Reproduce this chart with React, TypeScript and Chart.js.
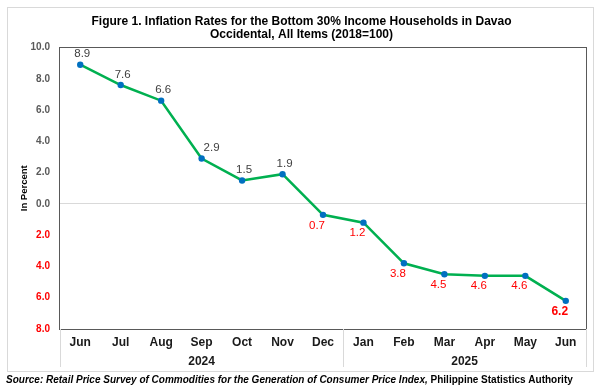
import React, { useEffect, useRef } from 'react';
import { Chart, registerables } from 'chart.js';

Chart.register(...registerables);

const months = ['Jun', 'Jul', 'Aug', 'Sep', 'Oct', 'Nov', 'Dec', 'Jan', 'Feb', 'Mar', 'Apr', 'May', 'Jun'];
const yearLabels = ['2024', '2025'];
const yearSpans = [7, 6];
const inflation = [8.9, 7.6, 6.6, 2.9, 1.5, 1.9, -0.7, -1.2, -3.8, -4.5, -4.6, -4.6, -6.2];
const yMin = -8;
const yMax = 10;
const yStep = 2;
const titleLines = [
  'Figure 1. Inflation Rates for the Bottom 30% Income Households in Davao',
  'Occidental, All Items (2018=100)',
];
const yAxisTitle = 'In Percent';
const sourceItalic = 'Source: Retail Price Survey of Commodities for the Generation of Consumer Price Index,';
const sourceRest = ' Philippine Statistics Authority';

const FONT = '"Liberation Sans", Arial, Helvetica, sans-serif';

const decor = {
  id: 'decor',
  beforeDraw(chart: any) {
    const ctx = chart.ctx;
    ctx.save();
    ctx.fillStyle = '#ffffff';
    ctx.fillRect(0, 0, chart.width, chart.height);
    ctx.restore();
  },
  beforeDatasetsDraw(chart: any) {
    const { ctx, chartArea } = chart;
    ctx.save();
    ctx.strokeStyle = '#595959';
    ctx.lineWidth = 1;
    ctx.strokeRect(
      Math.round(chartArea.left) - 0.5,
      Math.round(chartArea.top) - 0.5,
      Math.round(chartArea.right) - Math.round(chartArea.left) + 1,
      Math.round(chartArea.bottom) - Math.round(chartArea.top) + 1
    );
    ctx.restore();
  },
  afterDatasetsDraw(chart: any) {
    const { ctx } = chart;
    const meta = chart.getDatasetMeta(0);
    ctx.save();
    ctx.textAlign = 'center';
    ctx.textBaseline = 'middle';
    meta.data.forEach((pt: any, i: number) => {
      const v = inflation[i];
      const last = i === inflation.length - 1;
      const txt = Math.abs(v).toFixed(1);
      if (v >= 0) {
        // nudge right when the line drops steeply into the point
        const prev = i > 0 ? inflation[i - 1] : v;
        const dx = prev - v > 3 ? 10 : 2;
        ctx.fillStyle = '#404040';
        ctx.font = `11.5px ${FONT}`;
        ctx.fillText(txt, pt.x + dx, pt.y - 10.5);
      } else {
        ctx.fillStyle = '#FF0000';
        ctx.font = last ? `bold 12px ${FONT}` : `11.5px ${FONT}`;
        ctx.fillText(txt, pt.x - 6, pt.y + 10.5);
      }
    });
    ctx.restore();
  },
  afterDraw(chart: any) {
    const { ctx, chartArea } = chart;
    const xScale = chart.scales.x;
    ctx.save();
    // outer frame
    ctx.strokeStyle = '#D9D9D9';
    ctx.lineWidth = 1;
    ctx.strokeRect(7.5, 7.5, 586, 364);
    // group separators
    const sepTop = Math.round(chartArea.bottom);
    const sepBottom = 367;
    const seps: number[] = [chartArea.left];
    let idx = 0;
    yearSpans.forEach((span) => {
      idx += span;
      if (idx < months.length) {
        seps.push((xScale.getPixelForValue(idx - 1) + xScale.getPixelForValue(idx)) / 2);
      }
    });
    seps.push(chartArea.right);
    ctx.beginPath();
    seps.forEach((x) => {
      const xx = Math.round(x) + 0.5;
      ctx.moveTo(xx, sepTop);
      ctx.lineTo(xx, sepBottom);
    });
    ctx.stroke();
    // year labels
    ctx.fillStyle = '#1a1a1a';
    ctx.font = `bold 12px ${FONT}`;
    ctx.textAlign = 'center';
    ctx.textBaseline = 'middle';
    let start = 0;
    yearLabels.forEach((lab, k) => {
      const end = start + yearSpans[k] - 1;
      const cx = (xScale.getPixelForValue(start) + xScale.getPixelForValue(end)) / 2;
      ctx.fillText(lab, cx, 362);
      start = end + 1;
    });
    // source
    ctx.textAlign = 'left';
    ctx.fillStyle = '#000000';
    ctx.font = `italic bold 10px ${FONT}`;
    ctx.fillText(sourceItalic, 6, 380);
    const w = ctx.measureText(sourceItalic).width;
    ctx.font = `bold 10px ${FONT}`;
    ctx.fillText(sourceRest, 6 + w, 380);
    ctx.restore();
  },
};

export default function App() {
  const canvasRef = useRef<HTMLCanvasElement | null>(null);

  useEffect(() => {
    if (!canvasRef.current) return;
    const chart = new Chart(canvasRef.current, {
      type: 'line',
      data: {
        labels: months,
        datasets: [
          {
            data: inflation,
            borderColor: '#00B050',
            borderWidth: 2.5,
            pointRadius: 3.2,
            pointBackgroundColor: '#0070C0',
            pointBorderColor: '#0070C0',
            pointBorderWidth: 0,
            tension: 0,
            clip: false as any,
          },
        ],
      },
      options: {
        responsive: false,
        animation: false,
        devicePixelRatio: 1,
        layout: { padding: { left: 17, right: 15, top: 0, bottom: 0 } },
        plugins: {
          legend: { display: false },
          tooltip: { enabled: false },
          title: {
            display: true,
            text: titleLines,
            color: '#000000',
            font: { family: FONT, size: 12, weight: 'bold', lineHeight: 1.15 },
            padding: { top: 14.3, bottom: 5.6 },
          },
        },
        scales: {
          x: {
            type: 'category',
            offset: true,
            grid: { display: false, drawTicks: false },
            border: { display: false },
            ticks: {
              color: '#1a1a1a',
              font: { family: FONT, size: 12, weight: 'bold' },
              padding: 6,
              maxRotation: 0,
              autoSkip: false,
            },
            afterFit: (s: any) => {
              s.height = 60;
            },
          },
          y: {
            min: yMin,
            max: yMax,
            grid: {
              display: true,
              drawTicks: false,
              color: (c: any) => (c.tick && c.tick.value === 0 ? '#D9D9D9' : 'rgba(0,0,0,0)'),
              lineWidth: 1,
            },
            border: { display: false },
            ticks: {
              stepSize: yStep,
              padding: 10,
              font: { family: FONT, size: 10, weight: 'bold' },
              color: (c: any) => (c.tick && c.tick.value < 0 ? '#FF0000' : '#595959'),
              callback: (v: any) => Math.abs(Number(v)).toFixed(1),
            },
            title: {
              display: true,
              text: yAxisTitle,
              color: '#000000',
              font: { family: FONT, size: 9.5, weight: 'bold', lineHeight: 1.2 },
              padding: { top: 1.3, bottom: 0 },
            },
            afterFit: (s: any) => {
              s.width = 43;
            },
          },
        },
      },
      plugins: [decor],
    } as any);
    return () => chart.destroy();
  }, []);

  return (
    <div style={{ position: 'absolute', left: 0, top: 0, width: 601, height: 389, background: '#fff' }}>
      <canvas ref={canvasRef} width={601} height={389} style={{ display: 'block', width: 601, height: 389 }} />
    </div>
  );
}
